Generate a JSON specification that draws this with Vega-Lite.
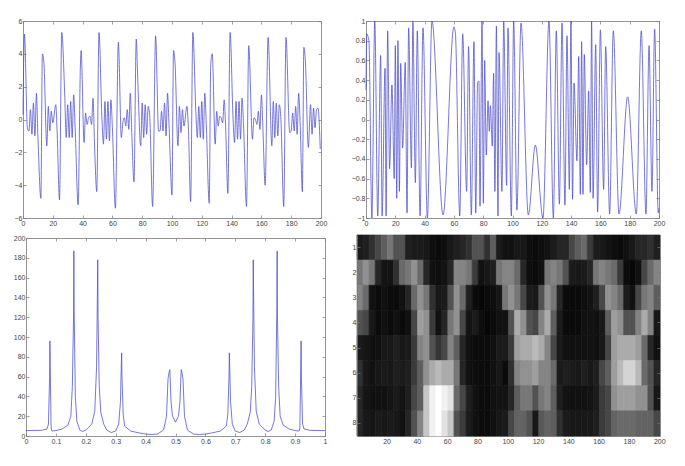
{"$schema":"https://vega.github.io/schema/vega-lite/v6.json","padding":{"left":13,"top":17,"right":0,"bottom":0},"background":"white","bounds":"flush","columns":2,"spacing":{"column":32,"row":17},
"config":{"view":{"stroke":null},"axis":{"grid":false,"title":null,"domainColor":"#7a7a7a","domainWidth":0.8,"tickColor":"#7a7a7a","tickWidth":0.7,"tickSize":-3,"labelFont":"Liberation Sans","labelFontSize":7,"labelColor":"#444444","labelPadding":4,"labelFlush":false,"labelOverlap":false}},
"datasets":{
"a":[{"t":0,"v":0.3},{"t":1,"v":5.2},{"t":3,"v":-0.6},{"t":4,"v":-0.7},{"t":5,"v":0.6},{"t":6,"v":-0.9},{"t":7,"v":1.0},{"t":8,"v":-1.0},{"t":9,"v":1.6},{"t":10,"v":-1.0},{"t":12,"v":-4.8},{"t":13,"v":4.0},{"t":14,"v":3.5},{"t":16,"v":-1.6},{"t":17,"v":0.8},{"t":18,"v":-0.7},{"t":19,"v":0.5},{"t":20,"v":-0.2},{"t":22,"v":0.9},{"t":23,"v":-1.0},{"t":24.5,"v":-4.9},{"t":26,"v":5.3},{"t":28,"v":1.5},{"t":29,"v":-1.1},{"t":30,"v":0.9},{"t":31,"v":-1.1},{"t":32,"v":1.1},{"t":33,"v":-1.1},{"t":34,"v":1.5},{"t":35,"v":-0.5},{"t":37,"v":-5.2},{"t":38.5,"v":3.2},{"t":39,"v":4.2},{"t":41,"v":-1.4},{"t":42,"v":0.4},{"t":43,"v":-0.3},{"t":44,"v":0.1},{"t":45,"v":0.2},{"t":46,"v":-0.3},{"t":47,"v":1.3},{"t":48,"v":-1.5},{"t":49.5,"v":-4.4},{"t":51,"v":5.3},{"t":53,"v":0},{"t":54,"v":-1.5},{"t":55,"v":1.1},{"t":56,"v":-1.2},{"t":57,"v":1.1},{"t":58,"v":-1.3},{"t":59,"v":1.2},{"t":60,"v":-0.5},{"t":62,"v":-5.4},{"t":64,"v":4.7},{"t":66,"v":-1.1},{"t":67,"v":-0.2},{"t":68,"v":0.1},{"t":69,"v":-0.4},{"t":70,"v":0.6},{"t":71,"v":-0.6},{"t":72,"v":1.6},{"t":73,"v":-0.8},{"t":74.5,"v":-3.8},{"t":76,"v":4.9},{"t":77,"v":2.5},{"t":79,"v":-1.6},{"t":80,"v":1.0},{"t":81,"v":-1.1},{"t":82,"v":0.9},{"t":83,"v":-0.9},{"t":84,"v":0.8},{"t":85,"v":0.3},{"t":87,"v":-5.3},{"t":89,"v":5.1},{"t":91,"v":-0.7},{"t":92,"v":-0.7},{"t":93,"v":0.5},{"t":94,"v":-0.7},{"t":95,"v":1.0},{"t":96,"v":-1.0},{"t":97,"v":1.6},{"t":98,"v":-0.3},{"t":100,"v":-4.6},{"t":101,"v":4.2},{"t":102,"v":3.5},{"t":104,"v":-1.6},{"t":105,"v":0.8},{"t":106,"v":-0.8},{"t":107,"v":0.6},{"t":108,"v":-0.4},{"t":110,"v":0.8},{"t":111,"v":-0.5},{"t":112.5,"v":-5.0},{"t":114,"v":5.3},{"t":116,"v":0.5},{"t":117,"v":-1.1},{"t":118,"v":0.8},{"t":119,"v":-1.1},{"t":120,"v":1.1},{"t":121,"v":-1.2},{"t":122,"v":1.6},{"t":123,"v":-0.3},{"t":125,"v":-5.1},{"t":126,"v":3.4},{"t":127,"v":4.0},{"t":129,"v":-1.5},{"t":130,"v":0.5},{"t":131,"v":-0.4},{"t":132,"v":0.2},{"t":133,"v":0.1},{"t":134,"v":-0.2},{"t":135,"v":1.2},{"t":136,"v":-0.5},{"t":137.5,"v":-4.5},{"t":139,"v":5.3},{"t":141,"v":0},{"t":142,"v":-1.4},{"t":143,"v":1.1},{"t":144,"v":-1.2},{"t":145,"v":1.1},{"t":146,"v":-1.2},{"t":147,"v":1.3},{"t":148,"v":-0.3},{"t":150,"v":-5.3},{"t":151.5,"v":4.5},{"t":154,"v":-1.2},{"t":155,"v":0.1},{"t":156,"v":0.0},{"t":157,"v":-0.3},{"t":158,"v":0.5},{"t":159,"v":-0.6},{"t":160,"v":1.5},{"t":161,"v":-0.5},{"t":162.5,"v":-4.0},{"t":164.5,"v":5.0},{"t":167,"v":-1.6},{"t":168,"v":1.1},{"t":169,"v":-1.1},{"t":170,"v":1.0},{"t":171,"v":-1.0},{"t":172,"v":0.9},{"t":173,"v":0.2},{"t":175,"v":-5.3},{"t":176.5,"v":5.0},{"t":179,"v":-0.8},{"t":180,"v":-0.7},{"t":181,"v":0.4},{"t":182,"v":-0.7},{"t":183,"v":0.8},{"t":184,"v":-0.9},{"t":185,"v":1.6},{"t":186,"v":-0.2},{"t":187.5,"v":-4.4},{"t":188.5,"v":4.4},{"t":189.5,"v":3.6},{"t":191.5,"v":-1.7},{"t":193,"v":0.9},{"t":194,"v":-0.9},{"t":195,"v":0.7},{"t":196,"v":-0.5},{"t":197,"v":0.6},{"t":198,"v":0.7},{"t":199.5,"v":-1.8}],
"b":[{"t":0,"v":0.3},{"t":0.5,"v":0.87},{"t":1.2,"v":0.85},{"t":2,"v":0.8},{"t":4,"v":-1},{"t":6,"v":1},{"t":8,"v":-0.98},{"t":10,"v":0.65},{"t":11,"v":-0.98},{"t":13,"v":0.52},{"t":13.7,"v":-0.98},{"t":14.8,"v":0.9},{"t":16.1,"v":-0.5},{"t":17.7,"v":0.35},{"t":19.3,"v":-0.6},{"t":20,"v":0.75},{"t":21,"v":-0.8},{"t":21.8,"v":0.8},{"t":22.8,"v":-0.73},{"t":23.7,"v":0.57},{"t":25,"v":-0.29},{"t":26.8,"v":0.58},{"t":28,"v":-0.95},{"t":29.1,"v":0.93},{"t":31,"v":-0.49},{"t":32,"v":1},{"t":33.7,"v":-0.64},{"t":35,"v":0.9},{"t":36.9,"v":-0.98},{"t":38.9,"v":0.93},{"t":41.9,"v":-1},{"t":45,"v":1},{"t":52.6,"v":-0.97},{"t":60,"v":0.94},{"t":61,"v":0.88},{"t":64,"v":-0.98},{"t":66,"v":0.87},{"t":68.7,"v":-0.73},{"t":70,"v":0.74},{"t":71.9,"v":-0.97},{"t":73.7,"v":0.79},{"t":74.9,"v":-0.95},{"t":76.2,"v":0.38},{"t":77.1,"v":0.39},{"t":77.8,"v":-0.88},{"t":79.2,"v":1},{"t":80.1,"v":-0.85},{"t":81,"v":0.6},{"t":82.1,"v":-0.36},{"t":83.3,"v":0.19},{"t":84.2,"v":-0.12},{"t":84.9,"v":0.14},{"t":86.2,"v":-0.27},{"t":87.1,"v":0.47},{"t":88,"v":-0.73},{"t":89,"v":0.95},{"t":90.1,"v":-0.98},{"t":90.8,"v":0.68},{"t":92.8,"v":-0.73},{"t":94,"v":1},{"t":96,"v":-0.67},{"t":96.9,"v":0.93},{"t":99.2,"v":-0.98},{"t":100.8,"v":1},{"t":103,"v":-0.92},{"t":105.8,"v":0.98},{"t":110.8,"v":-0.97},{"t":115.6,"v":-0.26},{"t":120.8,"v":-1},{"t":124.9,"v":1},{"t":127.9,"v":-1},{"t":129.9,"v":0.9},{"t":132,"v":-0.86},{"t":133.8,"v":0.98},{"t":135.8,"v":-0.87},{"t":137.2,"v":0.85},{"t":138.8,"v":-0.71},{"t":139.9,"v":1},{"t":141,"v":-0.81},{"t":142,"v":0.37},{"t":144,"v":-0.42},{"t":145.2,"v":0.64},{"t":146.3,"v":-0.76},{"t":147.2,"v":0.79},{"t":148.1,"v":-0.76},{"t":149,"v":0.66},{"t":150.6,"v":-0.46},{"t":152,"v":0.29},{"t":153.1,"v":-0.74},{"t":154,"v":1},{"t":155,"v":-0.8},{"t":156.8,"v":0.76},{"t":158.1,"v":-0.94},{"t":160,"v":0.91},{"t":162.2,"v":-0.71},{"t":163.6,"v":0.74},{"t":166.3,"v":-0.96},{"t":168.8,"v":0.9},{"t":172.7,"v":-0.96},{"t":178.6,"v":0.23},{"t":184.5,"v":-0.96},{"t":187.9,"v":0.9},{"t":191.1,"v":-0.96},{"t":193.2,"v":0.75},{"t":195.2,"v":-0.73},{"t":197,"v":0.92},{"t":199.5,"v":-0.95},{"t":200,"v":-0.9}],
"c":[{"t":0,"v":5.5},{"t":0.05,"v":5.7},{"t":0.07,"v":7},{"t":0.075,"v":12},{"t":0.079,"v":60},{"t":0.08,"v":96},{"t":0.081,"v":70},{"t":0.084,"v":8},{"t":0.087,"v":5},{"t":0.1,"v":5.5},{"t":0.12,"v":7},{"t":0.14,"v":11},{"t":0.15,"v":20},{"t":0.155,"v":50},{"t":0.159,"v":120},{"t":0.16,"v":187},{"t":0.161,"v":130},{"t":0.165,"v":40},{"t":0.17,"v":15},{"t":0.18,"v":6},{"t":0.19,"v":4.5},{"t":0.2,"v":6},{"t":0.22,"v":12},{"t":0.23,"v":25},{"t":0.236,"v":70},{"t":0.239,"v":150},{"t":0.24,"v":178},{"t":0.241,"v":120},{"t":0.245,"v":50},{"t":0.25,"v":24},{"t":0.26,"v":12},{"t":0.27,"v":6},{"t":0.285,"v":3.5},{"t":0.3,"v":5},{"t":0.31,"v":12},{"t":0.316,"v":35},{"t":0.319,"v":75},{"t":0.32,"v":84},{"t":0.321,"v":60},{"t":0.325,"v":22},{"t":0.33,"v":10},{"t":0.35,"v":5},{"t":0.38,"v":3},{"t":0.4,"v":2},{"t":0.42,"v":1.5},{"t":0.44,"v":2},{"t":0.46,"v":6},{"t":0.47,"v":20},{"t":0.475,"v":58},{"t":0.479,"v":65},{"t":0.481,"v":67},{"t":0.485,"v":35},{"t":0.49,"v":20},{"t":0.5,"v":14},{"t":0.51,"v":20},{"t":0.515,"v":35},{"t":0.519,"v":67},{"t":0.521,"v":65},{"t":0.525,"v":58},{"t":0.53,"v":20},{"t":0.54,"v":6},{"t":0.56,"v":2},{"t":0.58,"v":1.5},{"t":0.6,"v":2},{"t":0.62,"v":3},{"t":0.65,"v":5},{"t":0.67,"v":10},{"t":0.675,"v":22},{"t":0.679,"v":60},{"t":0.68,"v":84},{"t":0.681,"v":75},{"t":0.684,"v":35},{"t":0.69,"v":12},{"t":0.7,"v":5},{"t":0.715,"v":3.5},{"t":0.73,"v":6},{"t":0.74,"v":12},{"t":0.75,"v":24},{"t":0.755,"v":50},{"t":0.759,"v":120},{"t":0.76,"v":178},{"t":0.761,"v":150},{"t":0.764,"v":70},{"t":0.77,"v":25},{"t":0.78,"v":12},{"t":0.8,"v":6},{"t":0.81,"v":4.5},{"t":0.82,"v":6},{"t":0.83,"v":15},{"t":0.835,"v":40},{"t":0.839,"v":130},{"t":0.84,"v":187},{"t":0.841,"v":120},{"t":0.845,"v":50},{"t":0.85,"v":20},{"t":0.86,"v":11},{"t":0.88,"v":7},{"t":0.9,"v":5.5},{"t":0.913,"v":5},{"t":0.916,"v":8},{"t":0.919,"v":70},{"t":0.92,"v":96},{"t":0.921,"v":60},{"t":0.925,"v":12},{"t":0.93,"v":7},{"t":0.95,"v":5.7},{"t":1,"v":5.5}],
"d":[
{"t":0.5,"e":4.5,"s":1,"v":0.1},{"t":4.5,"e":8.5,"s":1,"v":0.12},{"t":8.5,"e":12.5,"s":1,"v":0.2},{"t":12.5,"e":16.5,"s":1,"v":0.3},{"t":16.5,"e":20.5,"s":1,"v":0.4},{"t":20.5,"e":24.5,"s":1,"v":0.5},{"t":24.5,"e":28.5,"s":1,"v":0.35},{"t":28.5,"e":32.5,"s":1,"v":0.35},{"t":32.5,"e":36.5,"s":1,"v":0.12},{"t":36.5,"e":40.5,"s":1,"v":0.1},{"t":40.5,"e":44.5,"s":1,"v":0.1},{"t":44.5,"e":48.5,"s":1,"v":0.08},{"t":48.5,"e":52.5,"s":1,"v":0.04},{"t":52.5,"e":56.5,"s":1,"v":0.03},{"t":56.5,"e":60.5,"s":1,"v":0.04},{"t":60.5,"e":64.5,"s":1,"v":0.08},{"t":64.5,"e":68.5,"s":1,"v":0.12},{"t":68.5,"e":72.5,"s":1,"v":0.15},{"t":72.5,"e":76.5,"s":1,"v":0.2},{"t":76.5,"e":80.5,"s":1,"v":0.35},{"t":80.5,"e":84.5,"s":1,"v":0.35},{"t":84.5,"e":88.5,"s":1,"v":0.2},{"t":88.5,"e":92.5,"s":1,"v":0.4},{"t":92.5,"e":96.5,"s":1,"v":0.1},{"t":96.5,"e":100.5,"s":1,"v":0.05},{"t":100.5,"e":104.5,"s":1,"v":0.05},{"t":104.5,"e":108.5,"s":1,"v":0.08},{"t":108.5,"e":112.5,"s":1,"v":0.08},{"t":112.5,"e":116.5,"s":1,"v":0.04},{"t":116.5,"e":120.5,"s":1,"v":0.03},{"t":120.5,"e":124.5,"s":1,"v":0.04},{"t":124.5,"e":128.5,"s":1,"v":0.06},{"t":128.5,"e":132.5,"s":1,"v":0.1},{"t":132.5,"e":136.5,"s":1,"v":0.15},{"t":136.5,"e":140.5,"s":1,"v":0.15},{"t":140.5,"e":144.5,"s":1,"v":0.3},{"t":144.5,"e":148.5,"s":1,"v":0.4},{"t":148.5,"e":152.5,"s":1,"v":0.45},{"t":152.5,"e":156.5,"s":1,"v":0.25},{"t":156.5,"e":160.5,"s":1,"v":0.1},{"t":160.5,"e":164.5,"s":1,"v":0.08},{"t":164.5,"e":168.5,"s":1,"v":0.06},{"t":168.5,"e":172.5,"s":1,"v":0.04},{"t":172.5,"e":176.5,"s":1,"v":0.03},{"t":176.5,"e":180.5,"s":1,"v":0.05},{"t":180.5,"e":184.5,"s":1,"v":0.08},{"t":184.5,"e":188.5,"s":1,"v":0.15},{"t":188.5,"e":192.5,"s":1,"v":0.15},{"t":192.5,"e":196.5,"s":1,"v":0.2},{"t":196.5,"e":200.5,"s":1,"v":0.12},
{"t":0.5,"e":4.5,"s":2,"v":0.5},{"t":4.5,"e":8.5,"s":2,"v":0.6},{"t":8.5,"e":12.5,"s":2,"v":0.5},{"t":12.5,"e":16.5,"s":2,"v":0.15},{"t":16.5,"e":20.5,"s":2,"v":0.06},{"t":20.5,"e":24.5,"s":2,"v":0.06},{"t":24.5,"e":28.5,"s":2,"v":0.2},{"t":28.5,"e":32.5,"s":2,"v":0.45},{"t":32.5,"e":36.5,"s":2,"v":0.5},{"t":36.5,"e":40.5,"s":2,"v":0.6},{"t":40.5,"e":44.5,"s":2,"v":0.45},{"t":44.5,"e":48.5,"s":2,"v":0.15},{"t":48.5,"e":52.5,"s":2,"v":0.05},{"t":52.5,"e":56.5,"s":2,"v":0.04},{"t":56.5,"e":60.5,"s":2,"v":0.06},{"t":60.5,"e":64.5,"s":2,"v":0.15},{"t":64.5,"e":68.5,"s":2,"v":0.55},{"t":68.5,"e":72.5,"s":2,"v":0.55},{"t":72.5,"e":76.5,"s":2,"v":0.5},{"t":76.5,"e":80.5,"s":2,"v":0.25},{"t":80.5,"e":84.5,"s":2,"v":0.05},{"t":84.5,"e":88.5,"s":2,"v":0.08},{"t":88.5,"e":92.5,"s":2,"v":0.12},{"t":92.5,"e":96.5,"s":2,"v":0.5},{"t":96.5,"e":100.5,"s":2,"v":0.55},{"t":100.5,"e":104.5,"s":2,"v":0.55},{"t":104.5,"e":108.5,"s":2,"v":0.45},{"t":108.5,"e":112.5,"s":2,"v":0.15},{"t":112.5,"e":116.5,"s":2,"v":0.04},{"t":116.5,"e":120.5,"s":2,"v":0.03},{"t":120.5,"e":124.5,"s":2,"v":0.05},{"t":124.5,"e":128.5,"s":2,"v":0.5},{"t":128.5,"e":132.5,"s":2,"v":0.55},{"t":132.5,"e":136.5,"s":2,"v":0.5},{"t":136.5,"e":140.5,"s":2,"v":0.35},{"t":140.5,"e":144.5,"s":2,"v":0.1},{"t":144.5,"e":148.5,"s":2,"v":0.08},{"t":148.5,"e":152.5,"s":2,"v":0.1},{"t":152.5,"e":156.5,"s":2,"v":0.15},{"t":156.5,"e":160.5,"s":2,"v":0.5},{"t":160.5,"e":164.5,"s":2,"v":0.55},{"t":164.5,"e":168.5,"s":2,"v":0.5},{"t":168.5,"e":172.5,"s":2,"v":0.45},{"t":172.5,"e":176.5,"s":2,"v":0.25},{"t":176.5,"e":180.5,"s":2,"v":0.03},{"t":180.5,"e":184.5,"s":2,"v":0.02},{"t":184.5,"e":188.5,"s":2,"v":0.05},{"t":188.5,"e":192.5,"s":2,"v":0.3},{"t":192.5,"e":196.5,"s":2,"v":0.45},{"t":196.5,"e":200.5,"s":2,"v":0.55},
{"t":0.5,"e":4.5,"s":3,"v":0.55},{"t":4.5,"e":8.5,"s":3,"v":0.45},{"t":8.5,"e":12.5,"s":3,"v":0.05},{"t":12.5,"e":16.5,"s":3,"v":0.03},{"t":16.5,"e":20.5,"s":3,"v":0.05},{"t":20.5,"e":24.5,"s":3,"v":0.03},{"t":24.5,"e":28.5,"s":3,"v":0.03},{"t":28.5,"e":32.5,"s":3,"v":0.05},{"t":32.5,"e":36.5,"s":3,"v":0.15},{"t":36.5,"e":40.5,"s":3,"v":0.45},{"t":40.5,"e":44.5,"s":3,"v":0.6},{"t":44.5,"e":48.5,"s":3,"v":0.5},{"t":48.5,"e":52.5,"s":3,"v":0.2},{"t":52.5,"e":56.5,"s":3,"v":0.08},{"t":56.5,"e":60.5,"s":3,"v":0.1},{"t":60.5,"e":64.5,"s":3,"v":0.35},{"t":64.5,"e":68.5,"s":3,"v":0.6},{"t":68.5,"e":72.5,"s":3,"v":0.45},{"t":72.5,"e":76.5,"s":3,"v":0.12},{"t":76.5,"e":80.5,"s":3,"v":0.03},{"t":80.5,"e":84.5,"s":3,"v":0.02},{"t":84.5,"e":88.5,"s":3,"v":0.03},{"t":88.5,"e":92.5,"s":3,"v":0.04},{"t":92.5,"e":96.5,"s":3,"v":0.08},{"t":96.5,"e":100.5,"s":3,"v":0.5},{"t":100.5,"e":104.5,"s":3,"v":0.6},{"t":104.5,"e":108.5,"s":3,"v":0.5},{"t":108.5,"e":112.5,"s":3,"v":0.3},{"t":112.5,"e":116.5,"s":3,"v":0.1},{"t":116.5,"e":120.5,"s":3,"v":0.08},{"t":120.5,"e":124.5,"s":3,"v":0.35},{"t":124.5,"e":128.5,"s":3,"v":0.6},{"t":128.5,"e":132.5,"s":3,"v":0.5},{"t":132.5,"e":136.5,"s":3,"v":0.15},{"t":136.5,"e":140.5,"s":3,"v":0.03},{"t":140.5,"e":144.5,"s":3,"v":0.03},{"t":144.5,"e":148.5,"s":3,"v":0.03},{"t":148.5,"e":152.5,"s":3,"v":0.04},{"t":152.5,"e":156.5,"s":3,"v":0.06},{"t":156.5,"e":160.5,"s":3,"v":0.12},{"t":160.5,"e":164.5,"s":3,"v":0.3},{"t":164.5,"e":168.5,"s":3,"v":0.6},{"t":168.5,"e":172.5,"s":3,"v":0.55},{"t":172.5,"e":176.5,"s":3,"v":0.45},{"t":176.5,"e":180.5,"s":3,"v":0.1},{"t":180.5,"e":184.5,"s":3,"v":0.05},{"t":184.5,"e":188.5,"s":3,"v":0.3},{"t":188.5,"e":192.5,"s":3,"v":0.5},{"t":192.5,"e":196.5,"s":3,"v":0.55},{"t":196.5,"e":200.5,"s":3,"v":0.4},
{"t":0.5,"e":4.5,"s":4,"v":0.35},{"t":4.5,"e":8.5,"s":4,"v":0.3},{"t":8.5,"e":12.5,"s":4,"v":0.08},{"t":12.5,"e":16.5,"s":4,"v":0.03},{"t":16.5,"e":20.5,"s":4,"v":0.05},{"t":20.5,"e":24.5,"s":4,"v":0.03},{"t":24.5,"e":28.5,"s":4,"v":0.05},{"t":28.5,"e":32.5,"s":4,"v":0.03},{"t":32.5,"e":36.5,"s":4,"v":0.05},{"t":36.5,"e":40.5,"s":4,"v":0.3},{"t":40.5,"e":44.5,"s":4,"v":0.65},{"t":44.5,"e":48.5,"s":4,"v":0.6},{"t":48.5,"e":52.5,"s":4,"v":0.25},{"t":52.5,"e":56.5,"s":4,"v":0.05},{"t":56.5,"e":60.5,"s":4,"v":0.15},{"t":60.5,"e":64.5,"s":4,"v":0.5},{"t":64.5,"e":68.5,"s":4,"v":0.6},{"t":68.5,"e":72.5,"s":4,"v":0.3},{"t":72.5,"e":76.5,"s":4,"v":0.06},{"t":76.5,"e":80.5,"s":4,"v":0.1},{"t":80.5,"e":84.5,"s":4,"v":0.04},{"t":84.5,"e":88.5,"s":4,"v":0.02},{"t":88.5,"e":92.5,"s":4,"v":0.03},{"t":92.5,"e":96.5,"s":4,"v":0.05},{"t":96.5,"e":100.5,"s":4,"v":0.05},{"t":100.5,"e":104.5,"s":4,"v":0.35},{"t":104.5,"e":108.5,"s":4,"v":0.7},{"t":108.5,"e":112.5,"s":4,"v":0.6},{"t":112.5,"e":116.5,"s":4,"v":0.35},{"t":116.5,"e":120.5,"s":4,"v":0.3},{"t":120.5,"e":124.5,"s":4,"v":0.55},{"t":124.5,"e":128.5,"s":4,"v":0.7},{"t":128.5,"e":132.5,"s":4,"v":0.4},{"t":132.5,"e":136.5,"s":4,"v":0.1},{"t":136.5,"e":140.5,"s":4,"v":0.03},{"t":140.5,"e":144.5,"s":4,"v":0.03},{"t":144.5,"e":148.5,"s":4,"v":0.03},{"t":148.5,"e":152.5,"s":4,"v":0.05},{"t":152.5,"e":156.5,"s":4,"v":0.05},{"t":156.5,"e":160.5,"s":4,"v":0.05},{"t":160.5,"e":164.5,"s":4,"v":0.08},{"t":164.5,"e":168.5,"s":4,"v":0.4},{"t":168.5,"e":172.5,"s":4,"v":0.65},{"t":172.5,"e":176.5,"s":4,"v":0.6},{"t":176.5,"e":180.5,"s":4,"v":0.35},{"t":180.5,"e":184.5,"s":4,"v":0.35},{"t":184.5,"e":188.5,"s":4,"v":0.55},{"t":188.5,"e":192.5,"s":4,"v":0.7},{"t":192.5,"e":196.5,"s":4,"v":0.55},{"t":196.5,"e":200.5,"s":4,"v":0.08},
{"t":0.5,"e":4.5,"s":5,"v":0.1},{"t":4.5,"e":8.5,"s":5,"v":0.07},{"t":8.5,"e":12.5,"s":5,"v":0.05},{"t":12.5,"e":16.5,"s":5,"v":0.05},{"t":16.5,"e":20.5,"s":5,"v":0.08},{"t":20.5,"e":24.5,"s":5,"v":0.08},{"t":24.5,"e":28.5,"s":5,"v":0.12},{"t":28.5,"e":32.5,"s":5,"v":0.08},{"t":32.5,"e":36.5,"s":5,"v":0.1},{"t":36.5,"e":40.5,"s":5,"v":0.25},{"t":40.5,"e":44.5,"s":5,"v":0.55},{"t":44.5,"e":48.5,"s":5,"v":0.6},{"t":48.5,"e":52.5,"s":5,"v":0.35},{"t":52.5,"e":56.5,"s":5,"v":0.22},{"t":56.5,"e":60.5,"s":5,"v":0.3},{"t":60.5,"e":64.5,"s":5,"v":0.55},{"t":64.5,"e":68.5,"s":5,"v":0.4},{"t":68.5,"e":72.5,"s":5,"v":0.15},{"t":72.5,"e":76.5,"s":5,"v":0.05},{"t":76.5,"e":80.5,"s":5,"v":0.03},{"t":80.5,"e":84.5,"s":5,"v":0.03},{"t":84.5,"e":88.5,"s":5,"v":0.03},{"t":88.5,"e":92.5,"s":5,"v":0.05},{"t":92.5,"e":96.5,"s":5,"v":0.1},{"t":96.5,"e":100.5,"s":5,"v":0.1},{"t":100.5,"e":104.5,"s":5,"v":0.25},{"t":104.5,"e":108.5,"s":5,"v":0.65},{"t":108.5,"e":112.5,"s":5,"v":0.7},{"t":112.5,"e":116.5,"s":5,"v":0.7},{"t":116.5,"e":120.5,"s":5,"v":0.75},{"t":120.5,"e":124.5,"s":5,"v":0.7},{"t":124.5,"e":128.5,"s":5,"v":0.55},{"t":128.5,"e":132.5,"s":5,"v":0.3},{"t":132.5,"e":136.5,"s":5,"v":0.1},{"t":136.5,"e":140.5,"s":5,"v":0.05},{"t":140.5,"e":144.5,"s":5,"v":0.05},{"t":144.5,"e":148.5,"s":5,"v":0.05},{"t":148.5,"e":152.5,"s":5,"v":0.05},{"t":152.5,"e":156.5,"s":5,"v":0.05},{"t":156.5,"e":160.5,"s":5,"v":0.05},{"t":160.5,"e":164.5,"s":5,"v":0.08},{"t":164.5,"e":168.5,"s":5,"v":0.3},{"t":168.5,"e":172.5,"s":5,"v":0.65},{"t":172.5,"e":176.5,"s":5,"v":0.7},{"t":176.5,"e":180.5,"s":5,"v":0.7},{"t":180.5,"e":184.5,"s":5,"v":0.7},{"t":184.5,"e":188.5,"s":5,"v":0.65},{"t":188.5,"e":192.5,"s":5,"v":0.45},{"t":192.5,"e":196.5,"s":5,"v":0.15},{"t":196.5,"e":200.5,"s":5,"v":0.05},
{"t":0.5,"e":4.5,"s":6,"v":0.2},{"t":4.5,"e":8.5,"s":6,"v":0.08},{"t":8.5,"e":12.5,"s":6,"v":0.05},{"t":12.5,"e":16.5,"s":6,"v":0.08},{"t":16.5,"e":20.5,"s":6,"v":0.1},{"t":20.5,"e":24.5,"s":6,"v":0.08},{"t":24.5,"e":28.5,"s":6,"v":0.12},{"t":28.5,"e":32.5,"s":6,"v":0.1},{"t":32.5,"e":36.5,"s":6,"v":0.12},{"t":36.5,"e":40.5,"s":6,"v":0.25},{"t":40.5,"e":44.5,"s":6,"v":0.4},{"t":44.5,"e":48.5,"s":6,"v":0.6},{"t":48.5,"e":52.5,"s":6,"v":0.7},{"t":52.5,"e":56.5,"s":6,"v":0.75},{"t":56.5,"e":60.5,"s":6,"v":0.7},{"t":60.5,"e":64.5,"s":6,"v":0.7},{"t":64.5,"e":68.5,"s":6,"v":0.5},{"t":68.5,"e":72.5,"s":6,"v":0.15},{"t":72.5,"e":76.5,"s":6,"v":0.05},{"t":76.5,"e":80.5,"s":6,"v":0.04},{"t":80.5,"e":84.5,"s":6,"v":0.03},{"t":84.5,"e":88.5,"s":6,"v":0.03},{"t":88.5,"e":92.5,"s":6,"v":0.05},{"t":92.5,"e":96.5,"s":6,"v":0.08},{"t":96.5,"e":100.5,"s":6,"v":0.03},{"t":100.5,"e":104.5,"s":6,"v":0.2},{"t":104.5,"e":108.5,"s":6,"v":0.55},{"t":108.5,"e":112.5,"s":6,"v":0.6},{"t":112.5,"e":116.5,"s":6,"v":0.6},{"t":116.5,"e":120.5,"s":6,"v":0.65},{"t":120.5,"e":124.5,"s":6,"v":0.55},{"t":124.5,"e":128.5,"s":6,"v":0.55},{"t":128.5,"e":132.5,"s":6,"v":0.45},{"t":132.5,"e":136.5,"s":6,"v":0.1},{"t":136.5,"e":140.5,"s":6,"v":0.12},{"t":140.5,"e":144.5,"s":6,"v":0.1},{"t":144.5,"e":148.5,"s":6,"v":0.08},{"t":148.5,"e":152.5,"s":6,"v":0.12},{"t":152.5,"e":156.5,"s":6,"v":0.08},{"t":156.5,"e":160.5,"s":6,"v":0.12},{"t":160.5,"e":164.5,"s":6,"v":0.3},{"t":164.5,"e":168.5,"s":6,"v":0.4},{"t":168.5,"e":172.5,"s":6,"v":0.65},{"t":172.5,"e":176.5,"s":6,"v":0.75},{"t":176.5,"e":180.5,"s":6,"v":0.85},{"t":180.5,"e":184.5,"s":6,"v":0.85},{"t":184.5,"e":188.5,"s":6,"v":0.75},{"t":188.5,"e":192.5,"s":6,"v":0.45},{"t":192.5,"e":196.5,"s":6,"v":0.35},{"t":196.5,"e":200.5,"s":6,"v":0.15},
{"t":0.5,"e":4.5,"s":7,"v":0.15},{"t":4.5,"e":8.5,"s":7,"v":0.07},{"t":8.5,"e":12.5,"s":7,"v":0.05},{"t":12.5,"e":16.5,"s":7,"v":0.05},{"t":16.5,"e":20.5,"s":7,"v":0.05},{"t":20.5,"e":24.5,"s":7,"v":0.07},{"t":24.5,"e":28.5,"s":7,"v":0.1},{"t":28.5,"e":32.5,"s":7,"v":0.06},{"t":32.5,"e":36.5,"s":7,"v":0.12},{"t":36.5,"e":40.5,"s":7,"v":0.3},{"t":40.5,"e":44.5,"s":7,"v":0.4},{"t":44.5,"e":48.5,"s":7,"v":0.8},{"t":48.5,"e":52.5,"s":7,"v":0.95},{"t":52.5,"e":56.5,"s":7,"v":1},{"t":56.5,"e":60.5,"s":7,"v":0.95},{"t":60.5,"e":64.5,"s":7,"v":0.9},{"t":64.5,"e":68.5,"s":7,"v":0.45},{"t":68.5,"e":72.5,"s":7,"v":0.3},{"t":72.5,"e":76.5,"s":7,"v":0.12},{"t":76.5,"e":80.5,"s":7,"v":0.05},{"t":80.5,"e":84.5,"s":7,"v":0.03},{"t":84.5,"e":88.5,"s":7,"v":0.03},{"t":88.5,"e":92.5,"s":7,"v":0.05},{"t":92.5,"e":96.5,"s":7,"v":0.06},{"t":96.5,"e":100.5,"s":7,"v":0.06},{"t":100.5,"e":104.5,"s":7,"v":0.15},{"t":104.5,"e":108.5,"s":7,"v":0.4},{"t":108.5,"e":112.5,"s":7,"v":0.5},{"t":112.5,"e":116.5,"s":7,"v":0.5},{"t":116.5,"e":120.5,"s":7,"v":0.35},{"t":120.5,"e":124.5,"s":7,"v":0.5},{"t":124.5,"e":128.5,"s":7,"v":0.55},{"t":128.5,"e":132.5,"s":7,"v":0.4},{"t":132.5,"e":136.5,"s":7,"v":0.12},{"t":136.5,"e":140.5,"s":7,"v":0.06},{"t":140.5,"e":144.5,"s":7,"v":0.05},{"t":144.5,"e":148.5,"s":7,"v":0.05},{"t":148.5,"e":152.5,"s":7,"v":0.05},{"t":152.5,"e":156.5,"s":7,"v":0.06},{"t":156.5,"e":160.5,"s":7,"v":0.1},{"t":160.5,"e":164.5,"s":7,"v":0.25},{"t":164.5,"e":168.5,"s":7,"v":0.3},{"t":168.5,"e":172.5,"s":7,"v":0.6},{"t":172.5,"e":176.5,"s":7,"v":0.65},{"t":176.5,"e":180.5,"s":7,"v":0.65},{"t":180.5,"e":184.5,"s":7,"v":0.65},{"t":184.5,"e":188.5,"s":7,"v":0.6},{"t":188.5,"e":192.5,"s":7,"v":0.6},{"t":192.5,"e":196.5,"s":7,"v":0.35},{"t":196.5,"e":200.5,"s":7,"v":0.08},
{"t":0.5,"e":4.5,"s":8,"v":0.15},{"t":4.5,"e":8.5,"s":8,"v":0.08},{"t":8.5,"e":12.5,"s":8,"v":0.07},{"t":12.5,"e":16.5,"s":8,"v":0.1},{"t":16.5,"e":20.5,"s":8,"v":0.08},{"t":20.5,"e":24.5,"s":8,"v":0.1},{"t":24.5,"e":28.5,"s":8,"v":0.08},{"t":28.5,"e":32.5,"s":8,"v":0.05},{"t":32.5,"e":36.5,"s":8,"v":0.15},{"t":36.5,"e":40.5,"s":8,"v":0.35},{"t":40.5,"e":44.5,"s":8,"v":0.55},{"t":44.5,"e":48.5,"s":8,"v":0.8},{"t":48.5,"e":52.5,"s":8,"v":0.95},{"t":52.5,"e":56.5,"s":8,"v":1},{"t":56.5,"e":60.5,"s":8,"v":0.9},{"t":60.5,"e":64.5,"s":8,"v":0.8},{"t":64.5,"e":68.5,"s":8,"v":0.35},{"t":68.5,"e":72.5,"s":8,"v":0.25},{"t":72.5,"e":76.5,"s":8,"v":0.1},{"t":76.5,"e":80.5,"s":8,"v":0.05},{"t":80.5,"e":84.5,"s":8,"v":0.03},{"t":84.5,"e":88.5,"s":8,"v":0.03},{"t":88.5,"e":92.5,"s":8,"v":0.05},{"t":92.5,"e":96.5,"s":8,"v":0.08},{"t":96.5,"e":100.5,"s":8,"v":0.1},{"t":100.5,"e":104.5,"s":8,"v":0.3},{"t":104.5,"e":108.5,"s":8,"v":0.42},{"t":108.5,"e":112.5,"s":8,"v":0.42},{"t":112.5,"e":116.5,"s":8,"v":0.35},{"t":116.5,"e":120.5,"s":8,"v":0.08},{"t":120.5,"e":124.5,"s":8,"v":0.38},{"t":124.5,"e":128.5,"s":8,"v":0.42},{"t":128.5,"e":132.5,"s":8,"v":0.4},{"t":132.5,"e":136.5,"s":8,"v":0.2},{"t":136.5,"e":140.5,"s":8,"v":0.1},{"t":140.5,"e":144.5,"s":8,"v":0.08},{"t":144.5,"e":148.5,"s":8,"v":0.08},{"t":148.5,"e":152.5,"s":8,"v":0.08},{"t":152.5,"e":156.5,"s":8,"v":0.08},{"t":156.5,"e":160.5,"s":8,"v":0.12},{"t":160.5,"e":164.5,"s":8,"v":0.25},{"t":164.5,"e":168.5,"s":8,"v":0.3},{"t":168.5,"e":172.5,"s":8,"v":0.42},{"t":172.5,"e":176.5,"s":8,"v":0.45},{"t":176.5,"e":180.5,"s":8,"v":0.45},{"t":180.5,"e":184.5,"s":8,"v":0.45},{"t":184.5,"e":188.5,"s":8,"v":0.42},{"t":188.5,"e":192.5,"s":8,"v":0.42},{"t":192.5,"e":196.5,"s":8,"v":0.42},{"t":196.5,"e":200.5,"s":8,"v":0.3}
]},
"concat":[
{"width":302,"height":197,"data":{"name":"a"},"resolve":{"axis":{"x":"independent","y":"independent"}},"layer":[
{"mark":{"type":"line","color":"#4a4acc","strokeWidth":0.75,"interpolate":"monotone"},"encoding":{"x":{"field":"t","type":"quantitative","scale":{"domain":[0,200],"nice":false,"range":[0,298]},"axis":{"orient":"bottom","values":[0,20,40,60,80,100,120,140,160,180,200]}},"y":{"field":"v","type":"quantitative","scale":{"domain":[-6,6],"nice":false},"axis":{"orient":"left","values":[-6,-4,-2,0,2,4,6]}}}},
{"mark":{"type":"line","strokeOpacity":0},"encoding":{"x":{"field":"t","type":"quantitative","axis":{"orient":"top","labels":false,"values":[0,20,40,60,80,100,120,140,160,180,200]}},"y":{"field":"v","type":"quantitative","axis":{"orient":"right","offset":-4,"labels":false,"values":[-6,-4,-2,0,2,4,6]}}}}]},
{"width":303,"height":197,"data":{"name":"b"},"resolve":{"axis":{"x":"independent","y":"independent"}},"layer":[
{"mark":{"type":"line","color":"#4a4acc","strokeWidth":0.75,"interpolate":"monotone"},"encoding":{"x":{"field":"t","type":"quantitative","scale":{"domain":[0,200],"nice":false,"range":[9,302]},"axis":{"orient":"bottom","values":[0,20,40,60,80,100,120,140,160,180,200]}},"y":{"field":"v","type":"quantitative","scale":{"domain":[-1,1],"nice":false},"axis":{"orient":"left","offset":-9,"values":[-1,-0.8,-0.6,-0.4,-0.2,0,0.2,0.4,0.6,0.8,1],"format":"~g"}}}},
{"mark":{"type":"line","strokeOpacity":0},"encoding":{"x":{"field":"t","type":"quantitative","axis":{"orient":"top","labels":false,"values":[0,20,40,60,80,100,120,140,160,180,200]}},"y":{"field":"v","type":"quantitative","axis":{"orient":"right","offset":-1,"labels":false,"values":[-1,-0.8,-0.6,-0.4,-0.2,0,0.2,0.4,0.6,0.8,1]}}}}]},
{"width":302,"height":201,"data":{"name":"c"},"resolve":{"axis":{"x":"independent","y":"independent"}},"layer":[
{"mark":{"type":"line","color":"#4a4acc","strokeWidth":0.75},"encoding":{"x":{"field":"t","type":"quantitative","scale":{"domain":[0,1],"nice":false,"range":[3,302]},"axis":{"orient":"bottom","values":[0,0.1,0.2,0.3,0.4,0.5,0.6,0.7,0.8,0.9,1],"format":"~g"}},"y":{"field":"v","type":"quantitative","scale":{"domain":[0,200],"nice":false,"range":[201,3]},"axis":{"orient":"left","offset":-3,"values":[0,20,40,60,80,100,120,140,160,180,200]}}}},
{"mark":{"type":"line","strokeOpacity":0},"encoding":{"x":{"field":"t","type":"quantitative","axis":{"orient":"top","offset":-3,"labels":false,"values":[0,0.1,0.2,0.3,0.4,0.5,0.6,0.7,0.8,0.9,1]}},"y":{"field":"v","type":"quantitative","axis":{"orient":"right","labels":false,"values":[0,20,40,60,80,100,120,140,160,180,200]}}}}]},
{"width":303,"height":201,"data":{"name":"d"},"resolve":{"axis":{"x":"independent","y":"independent"}},"layer":[
{"mark":{"type":"rect","strokeWidth":0.7},"encoding":{"x":{"field":"t","type":"quantitative","scale":{"domain":[0.5,200.5],"nice":false,"zero":false},"axis":{"orient":"bottom","values":[20,40,60,80,100,120,140,160,180,200]}},"x2":{"field":"e"},"y":{"field":"s","type":"ordinal","scale":{"paddingInner":0,"paddingOuter":0},"axis":{"orient":"left","labelAngle":0}},"color":{"field":"v","type":"quantitative","scale":{"domain":[0,1],"range":["#000000","#ffffff"]},"legend":null},"stroke":{"field":"v","type":"quantitative","scale":{"domain":[0,1],"range":["#000000","#ffffff"]},"legend":null}}},
{"mark":{"type":"rect","opacity":0},"encoding":{"x":{"field":"t","type":"quantitative","axis":{"orient":"top","labels":false,"values":[20,40,60,80,100,120,140,160,180,200]}},"x2":{"field":"e"},"y":{"field":"s","type":"ordinal","axis":{"orient":"right","labels":false}}}}]}
]}
